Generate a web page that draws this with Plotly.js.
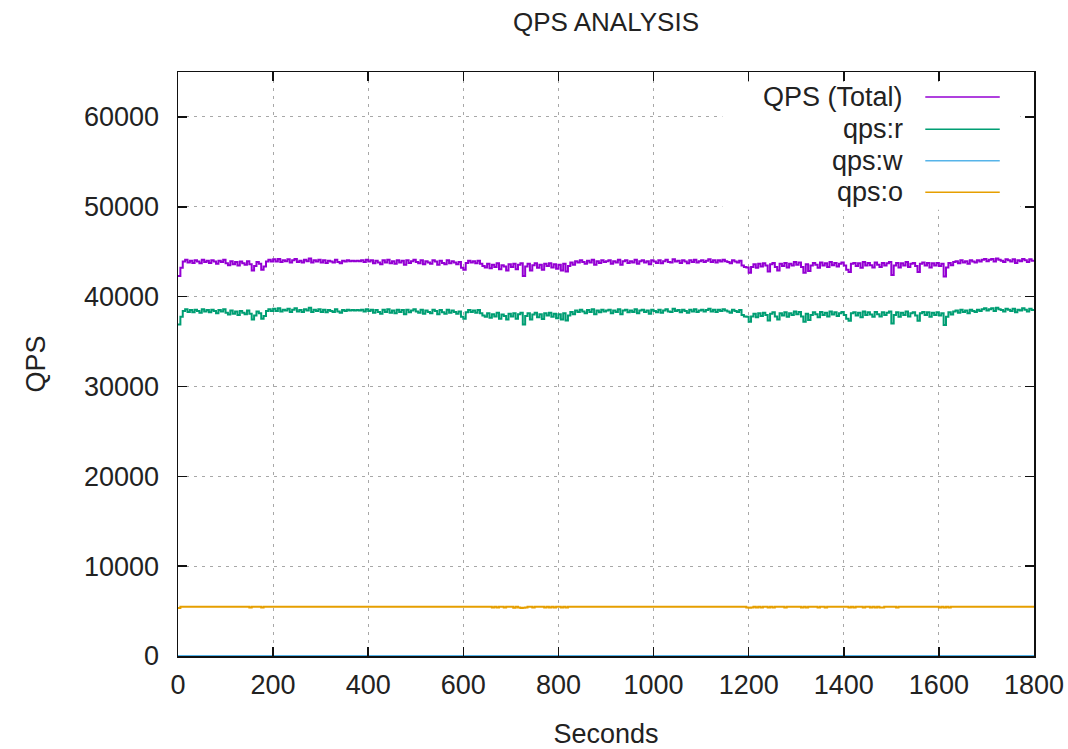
<!DOCTYPE html>
<html>
<head>
<meta charset="utf-8">
<script src="https://cdn.plot.ly/plotly-3.0.1.min.js"></script>
<style>html,body{margin:0;padding:0;background:#fff;}#chart{width:1068px;height:749px;}</style>
</head>
<body>
<div id="chart"></div>
<script>
// Sampling step (seconds) for the series below: t = 0, 5, 10, ..., 1800
const STEP = 5;

const seriesNames = ["QPS (Total)", "qps:r", "qps:w", "qps:o"];
const seriesColors = ["#9400d3", "#009e73", "#56b4e9", "#e69f00"];

const xTicks = [0, 200, 400, 600, 800, 1000, 1200, 1400, 1600, 1800];
const yTicks = [0, 10000, 20000, 30000, 40000, 50000, 60000];

const qpsTotal = [
42300,43200,43900,44100,43800,44000,43750,44050,43900,43700,44100,43850,44000,43750,44050,43900,43650,44000,43850,44100,
43700,43500,43950,43600,43850,43450,43900,43700,43550,43950,43600,42900,43400,43850,43650,43000,43350,43900,44100,43900,
44150,43900,44200,43850,44050,43950,44150,43800,44050,44200,43850,44000,43800,44100,43950,44250,43800,44050,43900,44100,
43800,44050,43750,44000,43900,43800,44100,43850,43700,44000,43900,44050,43950,44000,43950,44000,43950,44050,43850,44100,
43900,44050,43700,44000,43800,43600,44050,43800,44100,43700,43950,43650,44050,43800,44000,43550,44050,43750,43950,44100,
43850,43700,44050,43600,43950,43800,43650,44050,43900,43550,44000,43750,43600,44050,43700,43950,43800,43600,43850,43200,
43000,43750,44000,43800,43950,43700,44000,43650,43400,43250,43650,43150,43550,43300,43700,43050,43500,43350,42900,43600,
43300,43650,43050,43550,43700,42300,43350,43650,42900,43500,43700,43200,43550,43000,43650,43400,43700,43250,43600,43100,
43550,42900,43650,42800,43400,43800,43550,43950,43800,44050,43850,43650,44000,43800,44100,43550,43950,43750,44050,43850,
43950,44050,43650,43950,43800,44100,43550,43950,44050,43750,43950,43800,44100,43650,43950,44050,43800,43950,43600,44050,
43900,43750,44050,43700,43950,44100,43850,43800,44150,43900,44000,43750,44050,43900,43700,44050,43850,44100,43800,43950,
44050,43850,44000,44150,43850,44050,43800,44050,43900,44100,43950,43850,43700,44050,43900,43800,44000,43450,43300,43250,
42650,43300,43600,43200,43650,43350,43700,43450,42800,43600,43750,43300,42900,43650,43400,43750,43250,43650,43450,43850,
43550,43800,43300,42650,43600,42850,43450,43750,43550,43200,43800,43450,43700,43300,43850,43500,43750,43350,43650,43800,
43450,43000,42750,43650,43750,43400,43700,43200,43850,43450,43750,43500,43250,43800,43550,43300,43750,43450,43700,43850,
42400,43450,43750,43250,43700,43450,43850,43300,43650,43750,43400,42750,43650,43800,43450,43750,43250,43700,43450,43750,
43400,43650,42250,43250,43750,43500,43850,43950,43700,44050,43800,43950,43650,44050,43900,43800,44050,43900,44100,44200,
43950,44100,44200,43900,44250,44100,44000,43850,44150,44050,43900,44150,43750,44050,43950,44200,44050,43850,44150,44000,
43900
];

const qpsRead = [
36900,37750,38400,38600,38300,38500,38250,38550,38400,38200,38600,38350,38500,38250,38550,38400,38150,38500,38350,38600,
38200,38000,38450,38100,38350,37950,38400,38200,38050,38450,38100,37450,37900,38350,38150,37550,37850,38400,38600,38400,
38650,38400,38700,38350,38550,38450,38650,38300,38550,38700,38350,38500,38300,38600,38450,38750,38300,38550,38400,38600,
38300,38550,38250,38500,38400,38300,38600,38350,38200,38500,38400,38550,38450,38500,38450,38500,38450,38550,38350,38600,
38400,38550,38200,38500,38300,38100,38550,38300,38600,38200,38450,38150,38550,38300,38500,38050,38550,38250,38450,38600,
38350,38200,38550,38100,38450,38300,38150,38550,38400,38050,38500,38250,38100,38550,38200,38450,38300,38100,38350,37750,
37550,38250,38500,38300,38450,38200,38500,38150,37900,37750,38150,37650,38050,37800,38200,37550,38000,37850,37450,38100,
37800,38150,37550,38050,38200,36900,37850,38150,37450,38000,38200,37700,38050,37500,38150,37900,38200,37750,38100,37600,
38050,37450,38150,37350,37900,38300,38050,38450,38300,38550,38350,38150,38500,38300,38600,38050,38450,38250,38550,38350,
38450,38550,38150,38450,38300,38600,38050,38450,38550,38250,38450,38300,38600,38150,38450,38550,38300,38450,38100,38550,
38400,38250,38550,38200,38450,38600,38350,38300,38650,38400,38500,38250,38550,38400,38200,38550,38350,38600,38300,38450,
38550,38350,38500,38650,38350,38550,38300,38550,38400,38600,38450,38350,38200,38550,38400,38300,38500,37950,37800,37750,
37200,37800,38100,37700,38150,37850,38200,37950,37350,38100,38250,37800,37450,38150,37900,38250,37750,38150,37950,38350,
38050,38300,37800,37200,38100,37400,37950,38250,38050,37700,38300,37950,38200,37800,38350,38000,38250,37850,38150,38300,
37950,37550,37300,38150,38250,37900,38200,37700,38350,37950,38250,38000,37750,38300,38050,37800,38250,37950,38200,38350,
37000,37950,38250,37750,38200,37950,38350,37800,38150,38250,37900,37300,38150,38300,37950,38250,37750,38200,37950,38250,
37900,38150,36850,37750,38250,38000,38350,38450,38200,38550,38300,38450,38150,38550,38400,38300,38550,38400,38600,38700,
38450,38600,38700,38400,38750,38600,38500,38350,38650,38550,38400,38650,38250,38550,38450,38700,38550,38350,38650,38500,
38400
];

const qpsWrite = [
0,0,0,0,0,0,0,0,0,0,0,0,0,0,0,0,0,0,0,0,
0,0,0,0,0,0,0,0,0,0,0,0,0,0,0,0,0,0,0,0,
0,0,0,0,0,0,0,0,0,0,0,0,0,0,0,0,0,0,0,0,
0,0,0,0,0,0,0,0,0,0,0,0,0,0,0,0,0,0,0,0,
0,0,0,0,0,0,0,0,0,0,0,0,0,0,0,0,0,0,0,0,
0,0,0,0,0,0,0,0,0,0,0,0,0,0,0,0,0,0,0,0,
0,0,0,0,0,0,0,0,0,0,0,0,0,0,0,0,0,0,0,0,
0,0,0,0,0,0,0,0,0,0,0,0,0,0,0,0,0,0,0,0,
0,0,0,0,0,0,0,0,0,0,0,0,0,0,0,0,0,0,0,0,
0,0,0,0,0,0,0,0,0,0,0,0,0,0,0,0,0,0,0,0,
0,0,0,0,0,0,0,0,0,0,0,0,0,0,0,0,0,0,0,0,
0,0,0,0,0,0,0,0,0,0,0,0,0,0,0,0,0,0,0,0,
0,0,0,0,0,0,0,0,0,0,0,0,0,0,0,0,0,0,0,0,
0,0,0,0,0,0,0,0,0,0,0,0,0,0,0,0,0,0,0,0,
0,0,0,0,0,0,0,0,0,0,0,0,0,0,0,0,0,0,0,0,
0,0,0,0,0,0,0,0,0,0,0,0,0,0,0,0,0,0,0,0,
0,0,0,0,0,0,0,0,0,0,0,0,0,0,0,0,0,0,0,0,
0,0,0,0,0,0,0,0,0,0,0,0,0,0,0,0,0,0,0,0,
0
];

const qpsOther = [
5350,5480,5480,5480,5480,5480,5480,5480,5480,5480,5480,5480,5480,5480,5480,5480,5480,5480,5480,5480,
5480,5480,5480,5480,5480,5480,5480,5480,5480,5480,5400,5480,5480,5480,5480,5400,5480,5480,5480,5480,
5480,5480,5480,5480,5480,5480,5480,5480,5480,5480,5480,5480,5480,5480,5480,5480,5480,5480,5480,5480,
5480,5480,5480,5480,5480,5480,5480,5480,5480,5480,5480,5480,5480,5480,5480,5480,5480,5480,5480,5480,
5480,5480,5480,5480,5480,5480,5480,5480,5480,5480,5480,5480,5480,5480,5480,5480,5480,5480,5480,5480,
5480,5480,5480,5480,5480,5480,5480,5480,5480,5480,5480,5480,5480,5480,5480,5480,5480,5480,5480,5480,
5480,5480,5480,5480,5480,5480,5480,5480,5480,5480,5480,5480,5400,5480,5400,5480,5480,5400,5480,5480,
5480,5380,5480,5400,5350,5380,5400,5480,5480,5400,5480,5480,5480,5480,5400,5480,5400,5480,5400,5480,
5480,5400,5480,5400,5480,5480,5480,5480,5480,5480,5480,5480,5480,5480,5480,5480,5480,5480,5480,5480,
5480,5480,5480,5480,5480,5480,5480,5480,5480,5480,5480,5480,5480,5480,5480,5480,5480,5480,5480,5480,
5480,5480,5480,5480,5480,5480,5480,5480,5480,5480,5480,5480,5480,5480,5480,5480,5480,5480,5480,5480,
5480,5480,5480,5480,5480,5480,5480,5480,5480,5480,5480,5480,5480,5480,5480,5480,5480,5480,5480,5400,
5380,5400,5480,5400,5480,5400,5480,5480,5400,5480,5400,5480,5480,5480,5480,5400,5480,5480,5480,5480,
5480,5480,5400,5480,5400,5480,5480,5480,5480,5400,5480,5480,5400,5480,5480,5480,5480,5480,5480,5480,
5480,5480,5400,5480,5400,5480,5480,5480,5400,5480,5480,5400,5480,5400,5480,5400,5400,5480,5480,5480,
5480,5480,5400,5480,5480,5480,5480,5480,5480,5480,5480,5480,5480,5480,5480,5480,5480,5480,5480,5480,
5400,5480,5400,5480,5400,5480,5480,5480,5480,5480,5480,5480,5480,5480,5480,5480,5480,5480,5480,5480,
5480,5480,5480,5480,5480,5480,5480,5480,5480,5480,5480,5480,5480,5480,5480,5480,5480,5480,5480,5480,
5480
];

const seconds = qpsTotal.map((_, i) => i * STEP);
const seriesValues = [qpsTotal, qpsRead, qpsWrite, qpsOther];

const FONT = "Liberation Sans, Arial, sans-serif";
const TXT = "#222222";

const traces = seriesValues.map((vals, k) => ({
  type: "scatter",
  mode: "lines",
  x: seconds,
  y: vals,
  name: seriesNames[k],
  line: { color: seriesColors[k], width: 2, shape: "hv" },
  showlegend: false,
  hoverinfo: "skip"
}));

// Custom gnuplot-style legend (text right-aligned, sample line on the right)
const legendRowsY = [0.957, 0.902, 0.848, 0.794];
const annotations = seriesNames.map((n, k) => ({
  xref: "paper", yref: "paper",
  x: 0.849, y: legendRowsY[k],
  xanchor: "right", yanchor: "middle",
  text: n, showarrow: false,
  font: { family: FONT, size: 27, color: TXT }
}));
const shapes = [{
  type: "rect", xref: "paper", yref: "paper",
  x0: 0.636, x1: 0.984, y0: 0.764, y1: 0.983,
  fillcolor: "#ffffff", line: { width: 0 }, layer: "above"
}].concat(seriesNames.map((n, k) => ({
  type: "line", xref: "paper", yref: "paper",
  x0: 0.873, x1: 0.960, y0: legendRowsY[k], y1: legendRowsY[k],
  line: { color: seriesColors[k], width: 1.5 }, layer: "above"
})));

const axisCommon = {
  showline: true, linecolor: "#111", linewidth: 1.5, mirror: "ticks",
  ticks: "inside", ticklen: 9, tickwidth: 1.5, tickcolor: "#111",
  showgrid: true, gridcolor: "#a8a8a8", gridwidth: 1, griddash: "3px,5px",
  zeroline: false,
  tickfont: { family: FONT, size: 27, color: TXT }
};

const layout = {
  width: 1068, height: 749,
  margin: { l: 178, r: 34, t: 72, b: 93 },
  paper_bgcolor: "#ffffff", plot_bgcolor: "#ffffff",
  font: { family: FONT, size: 27, color: TXT },
  title: {
    text: "QPS ANALYSIS",
    font: { family: FONT, size: 26, color: TXT },
    x: 0.5, xref: "paper", y: 0.971, yref: "container", yanchor: "middle"
  },
  xaxis: Object.assign({}, axisCommon, {
    range: [0, 1800], tickvals: xTicks, ticktext: xTicks.map(String),
    ticklabelstandoff: 4,
    title: { text: "Seconds", font: { family: FONT, size: 27, color: TXT }, standoff: 25 }
  }),
  yaxis: Object.assign({}, axisCommon, {
    range: [0, 65000], tickvals: yTicks, ticktext: yTicks.map(String),
    ticklabelstandoff: 12,
    title: { text: "QPS", font: { family: FONT, size: 27, color: TXT }, standoff: 30 }
  }),
  annotations: annotations,
  shapes: shapes
};

Plotly.newPlot("chart", traces, layout, { displayModeBar: false, staticPlot: true });
</script>
</body>
</html>
